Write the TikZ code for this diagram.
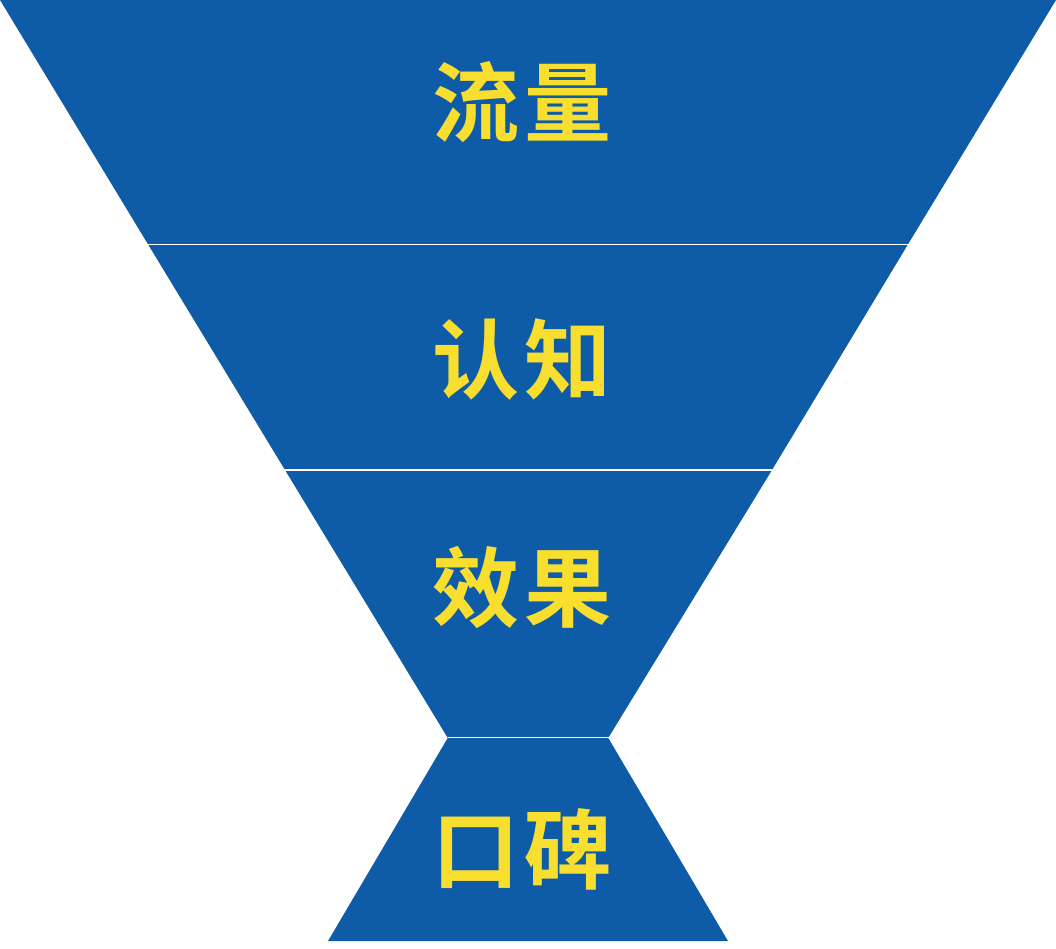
\documentclass[tikz,border=0pt]{standalone}
\usepackage{fontspec}
\newfontfamily\cjk{Noto Sans CJK SC Bold}
\definecolor{funnelblue}{HTML}{0E5BA8}
\definecolor{funnelyellow}{HTML}{F8DF2F}
\tikzset{
  layer/.style={fill=funnelblue, draw=none},
  sep/.style={draw=white, line width=1.3pt},
  label/.style={text=funnelyellow, font=\cjk\fontsize{87}{87}\selectfont, inner sep=0pt, anchor=center}
}
\begin{document}
\begin{tikzpicture}[x=1pt,y=-1pt]
\useasboundingbox (0,0) rectangle (1056,948);
\fill[white] (0,0) rectangle (1056,948);
% layers
\path[layer] (0,0) -- (1056,0) -- (908,244.3) -- (148,244.3) -- cycle;
\path[layer] (148,244.3) -- (908,244.3) -- (772,470) -- (285,470) -- cycle;
\path[layer] (285,470) -- (772,470) -- (608.5,737.5) -- (447.5,737.5) -- cycle;
\path[layer] (448,737.5) -- (608,737.5) -- (728,941) -- (328,941) -- cycle;
% separators
\coordinate (s1l) at (140,244.3); \coordinate (s1r) at (916,244.3);
\coordinate (s2l) at (278,470); \coordinate (s2r) at (779,470);
\coordinate (s3l) at (447.5,737.5); \coordinate (s3r) at (608.5,737.5);
\draw[sep] (s1l) -- (s1r);
\draw[sep] (s2l) -- (s2r);
\draw[sep] (s3l) -- (s3r);
% labels
\node[label] (t1) at (522,102) {流\hspace{6pt}量};
\node[label] (t2) at (522,359) {认\hspace{6pt}知};
\node[label] (t3) at (522,588) {效\hspace{6pt}果};
\node[label] (t4) at (522,849) {口\hspace{6pt}碑};
\end{tikzpicture}
\end{document}
